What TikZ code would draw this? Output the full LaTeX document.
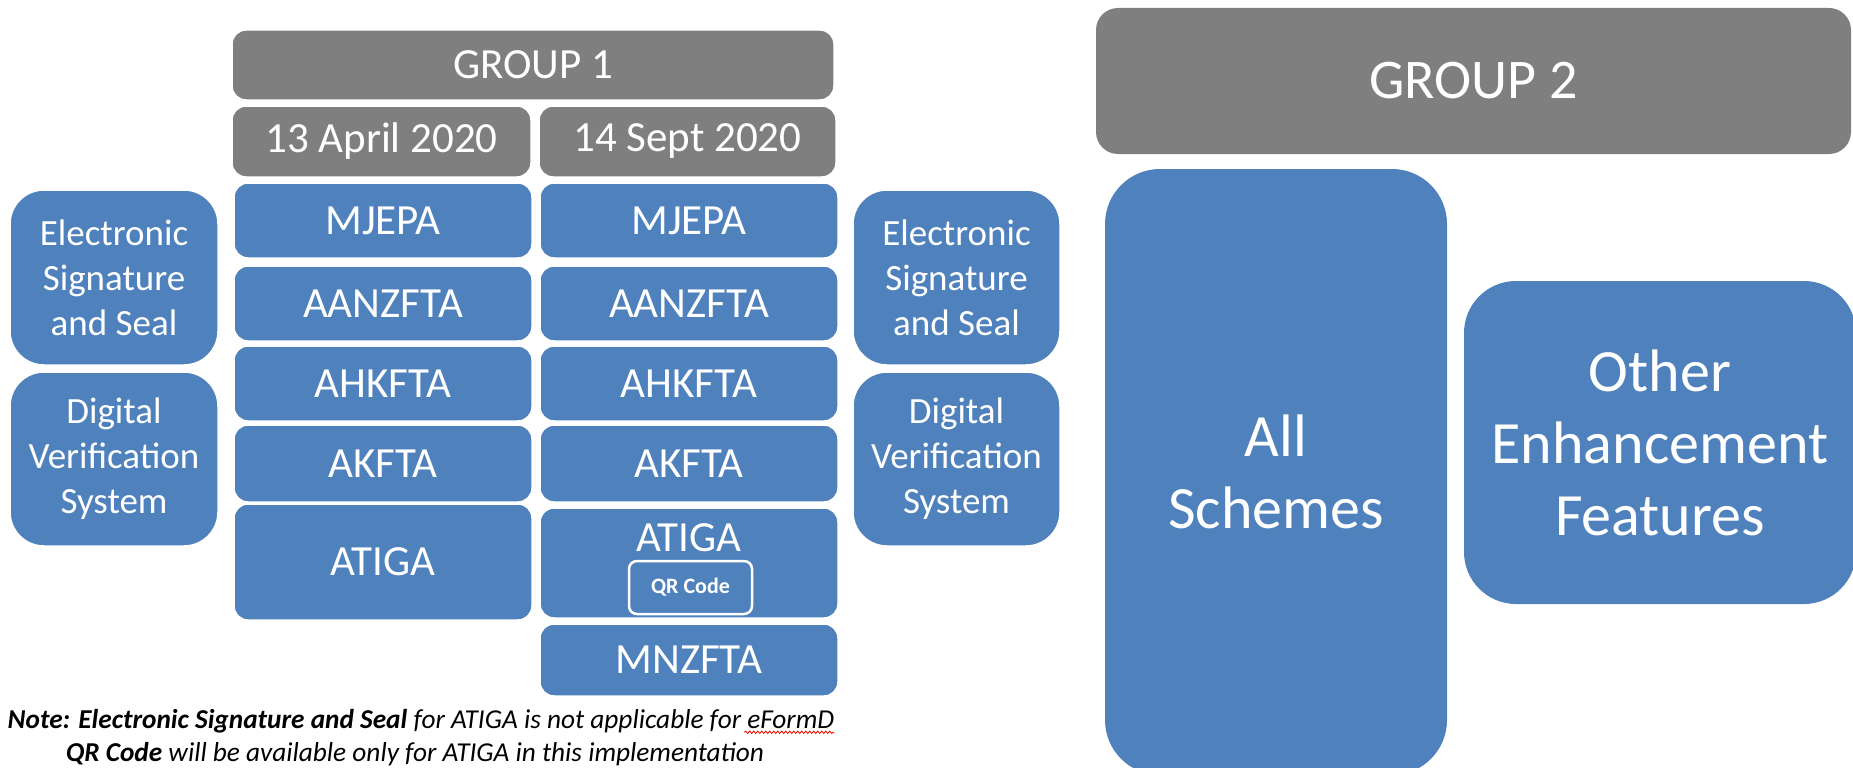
\documentclass[tikz,border=0pt]{standalone}
\usepackage{fontspec}
\setmainfont{Carlito}
\usetikzlibrary{decorations.pathmorphing}
\definecolor{bl}{HTML}{4F81BD}
\definecolor{gr}{HTML}{7F7F7F}
\begin{document}
\begin{tikzpicture}[x=1pt,y=-1pt,
  base/.style={inner sep=0pt, align=center, text=white, font=\fontsize{43}{52}\selectfont},
  bluebox/.style={base, fill=bl, draw=white, line width=1.5pt, rounded corners=14pt},
  graybox/.style={base, fill=gr, draw=white, line width=1.5pt, rounded corners=14pt},
  sidebox/.style={base, fill=bl, draw=white, line width=1.5pt, rounded corners=34pt, font=\fontsize{37}{45}\selectfont},
  bigbox/.style={base, fill=bl, rounded corners=55pt, font=\fontsize{60}{72}\selectfont},
  qrbox/.style={base, fill=bl, draw=white, line width=2.5pt, rounded corners=8pt, font=\fontsize{22}{26}\selectfont\bfseries},
  notetext/.style={inner sep=0pt, text=black, font=\fontsize{27.3}{33}\selectfont\itshape},
]
\useasboundingbox (0,0) rectangle (1853,768);

% GROUP 1 headers
\node[graybox, minimum width=602pt, minimum height=70pt] (g1) at (533,65) {GROUP 1};
\node[graybox, minimum width=299pt, minimum height=71pt] (d1) at (381.5,141.5) {13 April 2020};
\node[graybox, minimum width=297pt, minimum height=71pt] (d2) at (687.5,141.5) {14 Sept 2020};

% left column
\node[bluebox, minimum width=298pt, minimum height=75pt] (l1) at (383,220.5) {MJEPA};
\node[bluebox, minimum width=298pt, minimum height=75pt] (l2) at (383,303.5) {AANZFTA};
\node[bluebox, minimum width=298pt, minimum height=75pt] (l3) at (383,383.5) {AHKFTA};
\node[bluebox, minimum width=298pt, minimum height=77pt] (l4) at (383,463.5) {AKFTA};
\node[bluebox, minimum width=298pt, minimum height=116pt] (l5) at (383,562) {ATIGA};

% right column
\node[bluebox, minimum width=298pt, minimum height=75pt] (r1) at (689,220.5) {MJEPA};
\node[bluebox, minimum width=298pt, minimum height=75pt] (r2) at (689,303.5) {AANZFTA};
\node[bluebox, minimum width=298pt, minimum height=75pt] (r3) at (689,383.5) {AHKFTA};
\node[bluebox, minimum width=298pt, minimum height=77pt] (r4) at (689,463.5) {AKFTA};
\node[bluebox, minimum width=298pt, minimum height=110pt] (r5) at (689,563) {};
\node[base] (r5t) at (689,538) {ATIGA};
\node[qrbox, minimum width=123pt, minimum height=53pt] (qr) at (690.5,587.5) {QR Code};
\node[bluebox, minimum width=298pt, minimum height=72pt] (r6) at (689,660) {MNZFTA};

% side boxes
\node[sidebox, minimum width=208pt, minimum height=175pt] (esl) at (114,277.5) {Electronic\\Signature\\and Seal};
\node[sidebox, minimum width=208pt, minimum height=174pt] (dvl) at (114,459) {Digital\\Verification\\System};
\node[sidebox, minimum width=207pt, minimum height=175pt] (esr) at (956.5,277.5) {Electronic\\Signature\\and Seal};
\node[sidebox, minimum width=207pt, minimum height=174pt] (dvr) at (956.5,459) {Digital\\Verification\\System};

% note
\node[notetext] (note1) at (421,721) {\textbf{Note: Electronic Signature and Seal} for ATIGA is not applicable for eFormD};
\node[notetext] (note2) at (415,754) {\textbf{QR Code} will be available only for ATIGA in this implementation};
\draw[red, line width=0.8pt, decorate, decoration={snake, amplitude=1.2pt, segment length=4pt}]
  ([xshift=-90pt,yshift=-4pt]note1.base east) -- ([yshift=-4pt]note1.base east);

% GROUP 2
\node[base, fill=gr, rounded corners=22pt, minimum width=755pt, minimum height=146pt, font=\fontsize{56}{67}\selectfont] (g2) at (1473.5,81) {GROUP 2};
\node[bigbox, minimum width=342pt, minimum height=606pt] (all) at (1276,472) {All\\Schemes};
\node[bigbox, rounded corners=52pt, minimum width=392pt, minimum height=323pt] (oth) at (1660,442.5) {Other\\Enhancement\\Features};
\end{tikzpicture}
\end{document}
